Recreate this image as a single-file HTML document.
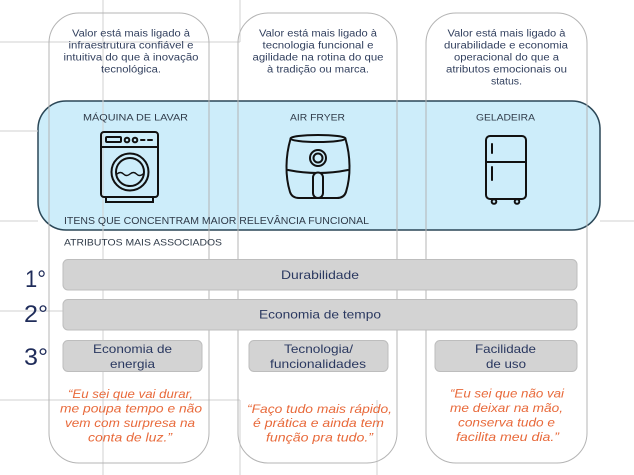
<!DOCTYPE html>
<html><head><meta charset="utf-8">
<style>
html,body{margin:0;padding:0;background:#fff;}
svg{display:block;}
text{font-family:"Liberation Sans","DejaVu Sans",sans-serif;}
</style></head>
<body>
<svg width="634" height="475" viewBox="0 0 634 475" xmlns="http://www.w3.org/2000/svg">
<rect width="634" height="475" fill="#fff"/>
<!-- blue box -->
<rect x="38" y="101" width="562" height="129" rx="28" fill="#cdedfa" stroke="#2b4757" stroke-width="1.5"/>
<!-- gridlines -->
<g stroke="#d2d2d2" stroke-width="1" fill="none">
<line x1="103" y1="0" x2="103" y2="475"/>
<line x1="240" y1="0" x2="240" y2="42"/>
<line x1="240" y1="400" x2="240" y2="475"/>
<line x1="377" y1="400" x2="377" y2="475"/>
<line x1="0" y1="42" x2="240" y2="42"/>
<line x1="0" y1="131" x2="38" y2="131"/>
<line x1="0" y1="221" x2="38" y2="221"/>
<line x1="600" y1="221" x2="634" y2="221"/>
<line x1="0" y1="311" x2="63" y2="311"/>
<line x1="0" y1="400" x2="240" y2="400"/>
</g>
<!-- columns -->
<g stroke="#b4b4b4" stroke-width="1" fill="none">
<rect x="49" y="13" width="160" height="450" rx="30"/>
<rect x="238" y="13" width="159" height="450" rx="30"/>
<rect x="426" y="13" width="161" height="450" rx="30"/>
</g>
<!-- header texts -->
<g fill="#33415f" font-size="10" text-anchor="middle">
<text x="131" y="36.5" textLength="118" lengthAdjust="spacingAndGlyphs">Valor está mais ligado à</text>
<text x="131" y="48.5" textLength="125" lengthAdjust="spacingAndGlyphs">infraestrutura confiável e</text>
<text x="131" y="60.5" textLength="135" lengthAdjust="spacingAndGlyphs">intuitiva do que à inovação</text>
<text x="131" y="72.5" textLength="60" lengthAdjust="spacingAndGlyphs">tecnológica.</text>

<text x="318" y="36.5" textLength="118" lengthAdjust="spacingAndGlyphs">Valor está mais ligado à</text>
<text x="318" y="48.5" textLength="111" lengthAdjust="spacingAndGlyphs">tecnologia funcional e</text>
<text x="318" y="60.5" textLength="131" lengthAdjust="spacingAndGlyphs">agilidade na rotina do que</text>
<text x="318" y="72.5" textLength="102" lengthAdjust="spacingAndGlyphs">à tradição ou marca.</text>

<text x="506.5" y="36.5" textLength="118" lengthAdjust="spacingAndGlyphs">Valor está mais ligado à</text>
<text x="506" y="48.5" textLength="124" lengthAdjust="spacingAndGlyphs">durabilidade e economia</text>
<text x="506.5" y="60.5" textLength="105" lengthAdjust="spacingAndGlyphs">operacional do que a</text>
<text x="506.5" y="72.5" textLength="121" lengthAdjust="spacingAndGlyphs">atributos emocionais ou</text>
<text x="506.5" y="84.5" textLength="31" lengthAdjust="spacingAndGlyphs">status.</text>
</g>
<!-- product labels -->
<g fill="#2f3a48" font-size="9.5" text-anchor="middle">
<text x="135.5" y="120.5" textLength="105" lengthAdjust="spacingAndGlyphs">MÁQUINA DE LAVAR</text>
<text x="317.5" y="120.5" textLength="55" lengthAdjust="spacingAndGlyphs">AIR FRYER</text>
<text x="505.5" y="120.5" textLength="59" lengthAdjust="spacingAndGlyphs">GELADEIRA</text>
</g>
<!-- washing machine -->
<g stroke="#111" stroke-width="2" fill="none" stroke-linecap="round">
<rect x="101" y="132" width="57" height="65" rx="3"/>
<line x1="101" y1="147" x2="158" y2="147"/>
<rect x="106" y="137" width="15" height="5" rx="1"/>
<circle cx="127" cy="140" r="2.3"/>
<circle cx="135" cy="140" r="2.3"/>
<line x1="141" y1="140" x2="144.5" y2="140"/>
<line x1="148" y1="140" x2="152" y2="140"/>
<circle cx="130" cy="172" r="18.5"/>
<circle cx="130" cy="172" r="14"/>
<path d="M117 174 q3.5 -3 6.5 0 t6.5 0 t6.5 0 t6.5 0" stroke-width="1.4"/>
<rect x="106" y="197" width="47" height="5"/>
</g>
<!-- air fryer -->
<g stroke="#111" stroke-width="2" fill="none" stroke-linecap="round">
<ellipse cx="318" cy="138.5" rx="27.5" ry="3.5"/>
<path d="M290.5 139 C285.5 156 285 176 290 192 Q292 198 299 198 L337 198 Q344 198 346 192 C351 176 350.5 156 345.5 139"/>
<path d="M288 170 Q318 176 348 170"/>
<circle cx="318" cy="158" r="8"/>
<circle cx="318" cy="158" r="4.5"/>
<rect x="313" y="172.5" width="10" height="25.5" rx="5" fill="#cdedfa"/>
</g>
<!-- fridge -->
<g stroke="#111" stroke-width="2" fill="none" stroke-linecap="round">
<rect x="486" y="136" width="40" height="63" rx="4"/>
<line x1="486" y1="162" x2="526" y2="162"/>
<line x1="492" y1="144" x2="492" y2="153"/>
<line x1="492" y1="167" x2="492" y2="180"/>
<circle cx="494" cy="201.5" r="2.3"/>
<circle cx="517" cy="201.5" r="2.3"/>
</g>
<text x="64" y="224" fill="#2f3a48" font-size="10" textLength="305" lengthAdjust="spacingAndGlyphs">ITENS QUE CONCENTRAM MAIOR RELEVÂNCIA FUNCIONAL</text>
<text x="64" y="245.5" fill="#2f3a48" font-size="9" textLength="158" lengthAdjust="spacingAndGlyphs">ATRIBUTOS MAIS ASSOCIADOS</text>
<!-- bars -->
<g fill="#d3d3d3" stroke="#bdbdbd" stroke-width="1">
<rect x="63" y="259.5" width="514" height="30.5" rx="5"/>
<rect x="63" y="299.5" width="514" height="30.5" rx="5"/>
<rect x="63" y="340.5" width="139" height="31" rx="5"/>
<rect x="249" y="340.5" width="139" height="31" rx="5"/>
<rect x="435" y="340.5" width="142" height="31" rx="5"/>
</g>
<g fill="#2a3860" font-size="12" text-anchor="middle">
<text x="320" y="279" textLength="78" lengthAdjust="spacingAndGlyphs">Durabilidade</text>
<text x="320" y="318.5" textLength="122" lengthAdjust="spacingAndGlyphs">Economia de tempo</text>
<text x="132.5" y="353" textLength="79" lengthAdjust="spacingAndGlyphs">Economia de</text>
<text x="132.5" y="368" textLength="45" lengthAdjust="spacingAndGlyphs">energia</text>
<text x="318.5" y="353" textLength="69" lengthAdjust="spacingAndGlyphs">Tecnologia/</text>
<text x="318" y="368" textLength="96" lengthAdjust="spacingAndGlyphs">funcionalidades</text>
<text x="505.5" y="353" textLength="61" lengthAdjust="spacingAndGlyphs">Facilidade</text>
<text x="506" y="368" textLength="40" lengthAdjust="spacingAndGlyphs">de uso</text>
</g>
<!-- ranks -->
<g fill="#1f2c5a" font-size="24">
<text x="25" y="287" textLength="21" lengthAdjust="spacingAndGlyphs">1°</text>
<text x="24" y="322" textLength="24" lengthAdjust="spacingAndGlyphs">2°</text>
<text x="24" y="365" textLength="24" lengthAdjust="spacingAndGlyphs">3°</text>
</g>
<!-- quotes -->
<g fill="#e8693a" font-size="12" font-style="italic" text-anchor="middle">
<text x="130.5" y="398" textLength="125" lengthAdjust="spacingAndGlyphs">“Eu sei que vai durar,</text>
<text x="131" y="412.5" textLength="142" lengthAdjust="spacingAndGlyphs">me poupa tempo e não</text>
<text x="130" y="427" textLength="130" lengthAdjust="spacingAndGlyphs">vem com surpresa na</text>
<text x="130" y="441.5" textLength="84" lengthAdjust="spacingAndGlyphs">conta de luz.”</text>

<text x="319.5" y="413" textLength="145" lengthAdjust="spacingAndGlyphs">“Faço tudo mais rápido,</text>
<text x="318.5" y="427" textLength="131" lengthAdjust="spacingAndGlyphs">é prática e ainda tem</text>
<text x="319.5" y="441.5" textLength="107" lengthAdjust="spacingAndGlyphs">função pra tudo.”</text>

<text x="507" y="397.5" textLength="114" lengthAdjust="spacingAndGlyphs">“Eu sei que não vai</text>
<text x="506.5" y="412" textLength="113" lengthAdjust="spacingAndGlyphs">me deixar na mão,</text>
<text x="506.5" y="426.5" textLength="97" lengthAdjust="spacingAndGlyphs">conserva tudo e</text>
<text x="507.5" y="441" textLength="103" lengthAdjust="spacingAndGlyphs">facilita meu dia.”</text>
</g>
</svg>
</body></html>
